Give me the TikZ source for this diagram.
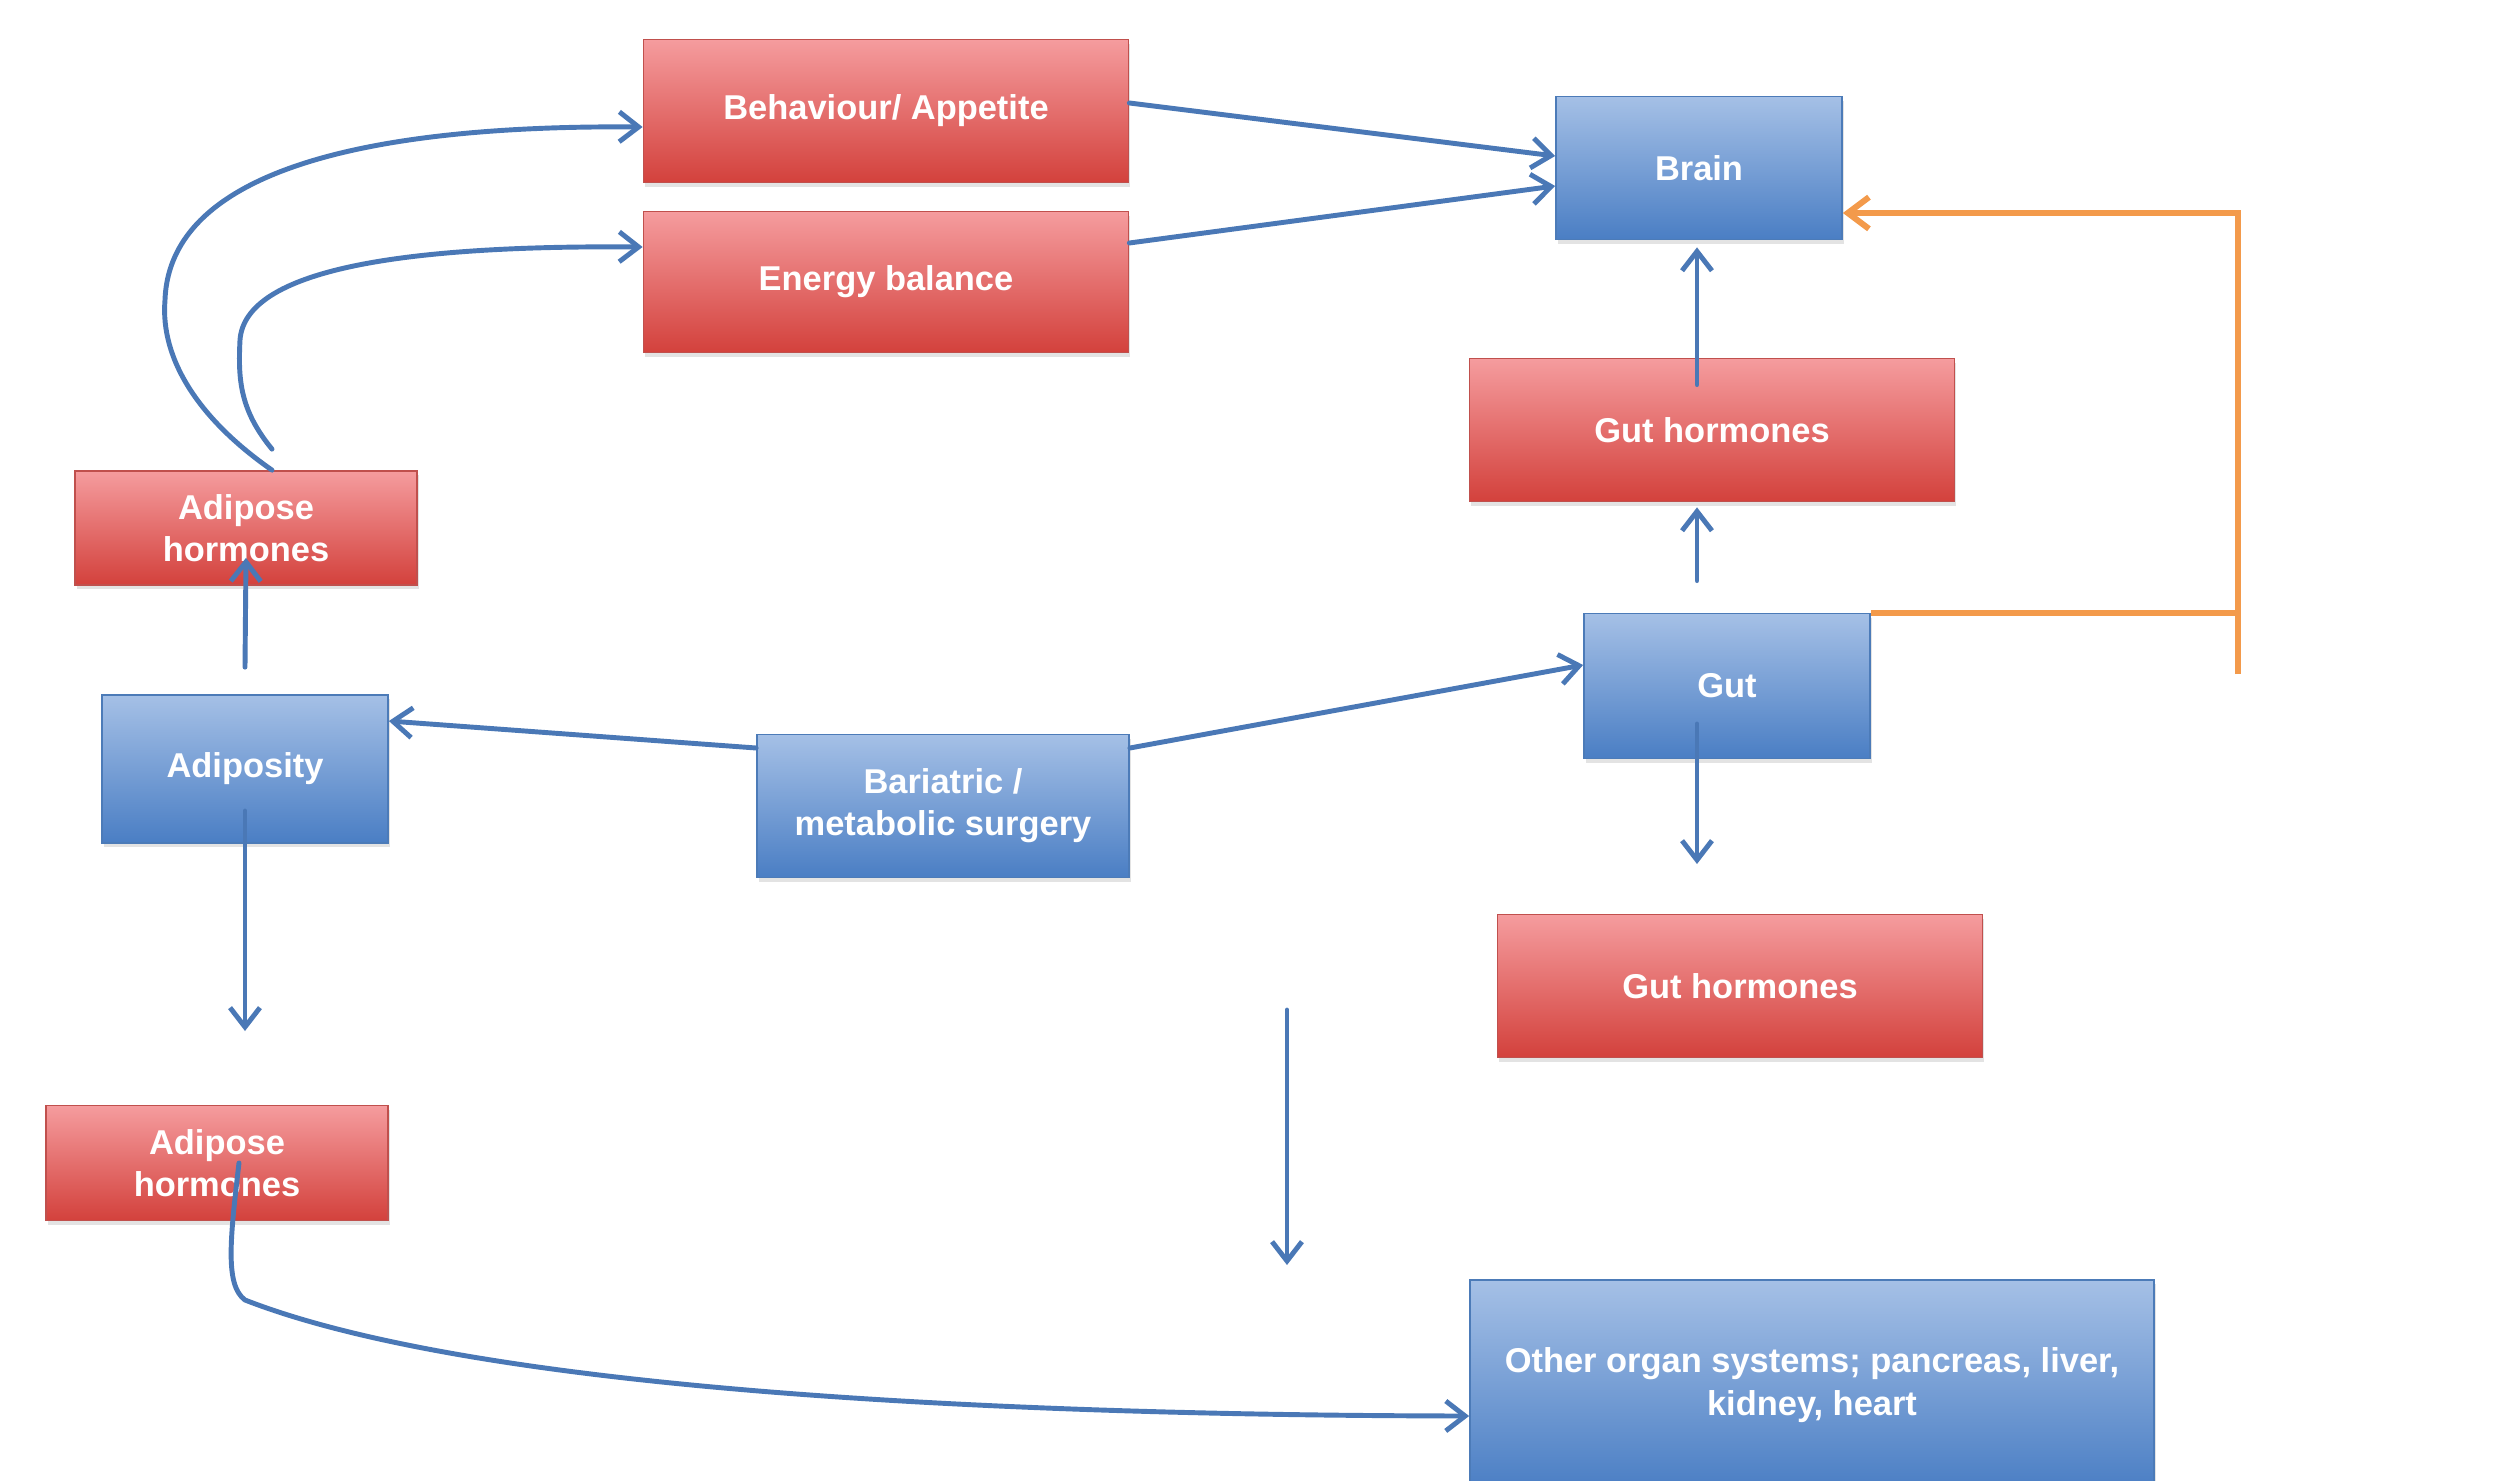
\documentclass[tikz,border=0pt]{standalone}
\usepackage{fontspec}
\setmainfont{Liberation Sans}
\usetikzlibrary{arrows.meta, positioning, calc, shadows}

\definecolor{rossoalto}{HTML}{F59C9E}
\definecolor{rossobasso}{HTML}{D3413C}
\definecolor{rossobordo}{HTML}{C0504D}
\definecolor{blualto}{HTML}{A5C0E6}
\definecolor{blubasso}{HTML}{4A7EC4}
\definecolor{blubordo}{HTML}{4C7BB8}
\definecolor{colfreccia}{HTML}{4A78B6}
\definecolor{colarancio}{HTML}{F39A4B}

\begin{document}
\begin{tikzpicture}[
    scatola/.style = {line width=0.5pt, text=white, align=center, inner sep=0pt,
        font=\bfseries\fontsize{9.8}{12}\selectfont,
        drop shadow={opacity=0.22, shadow xshift=0.5pt, shadow yshift=-1.2pt}},
    rosso/.style = {scatola, draw=rossobordo, top color=rossoalto, bottom color=rossobasso},
    blu/.style = {scatola, draw=blubordo, top color=blualto, bottom color=blubasso},
    frecciablu/.style = {draw=colfreccia, line width=1.4pt, line cap=round,
        -{Straight Barb[length=5.5pt, width=8.5pt]}},
    lineaarancio/.style = {draw=colarancio, line width=1.7pt},
    frecciaarancio/.style = {lineaarancio, -{Straight Barb[length=6pt, width=9pt]}}
]
    % Parametri
    \pgfmathsetmacro{\largo}{4.85}
    \pgfmathsetmacro{\alto}{1.43}
    \pgfmathsetmacro{\piccolo}{2.86}
    \pgfmathsetmacro{\adiposo}{3.42}
    % Sfondo
    \path[use as bounding box, fill=white] (0,0) rectangle (24.94,-14.81);
    % Riquadri rossi
    \node[rosso, minimum width=\largo cm, minimum height=\alto cm] (beh) at (8.86,-1.11) {Behaviour/ Appetite};
    \node[rosso, minimum width=\largo cm, minimum height=1.41cm] (ene) at (8.86,-2.82) {Energy balance};
    \node[rosso, minimum width=\largo cm, minimum height=\alto cm] (gormsup) at (17.12,-4.30) {Gut hormones};
    \node[rosso, minimum width=\largo cm, minimum height=\alto cm] (gorminf) at (17.40,-9.86) {Gut hormones};
    \node[rosso, minimum width=\adiposo cm, minimum height=1.14cm] (adiposup) at (2.46,-5.28) {Adipose\\hormones};
    \node[rosso, minimum width=\adiposo cm, minimum height=1.15cm] (adiposinf) at (2.17,-11.63) {Adipose\\hormones};
    % Riquadri blu
    \node[blu, minimum width=\piccolo cm, minimum height=\alto cm] (cervello) at (16.99,-1.68) {Brain};
    \node[blu, minimum width=\piccolo cm, minimum height=1.45cm] (intestino) at (17.27,-6.86) {Gut};
    \node[blu, minimum width=\piccolo cm, minimum height=1.48cm] (adiposita) at (2.45,-7.69) {Adiposity};
    \node[blu, minimum width=3.72cm, minimum height=\alto cm] (chirurgia) at (9.43,-8.06) {Bariatric /\\metabolic surgery};
    \node[blu, minimum width=6.84cm, minimum height=2.10cm] (organi) at (18.12,-13.85) {Other organ systems; pancreas, liver,\\kidney, heart};
    % Punti liberi
    \coordinate (asse) at (16.97,0);
    \coordinate (intgiu) at (16.97,-8.64);
    \coordinate (adipgiu) at (2.45,-10.31);
    \coordinate (vuotosu) at (12.87,-10.10);
    \coordinate (vuotogiu) at (12.87,-12.65);
    \coordinate (ramo) at (22.38,-6.74);
    % Frecce verso il cervello
    \draw[frecciablu] ([yshift=0.08cm]beh.east) -- ([yshift=0.12cm]cervello.west);
    \draw[frecciablu] ([yshift=0.39cm]ene.east) -- ([yshift=-0.18cm]cervello.west);
    \draw[frecciablu] ($(asse |- gormsup.north)+(0,-0.27)$) -- ($(asse |- cervello.south)+(0,-0.07)$);
    \draw[frecciablu] ($(asse |- intestino.north)+(0,0.32)$) -- ($(asse |- gormsup.south)+(0,-0.05)$);
    \draw[frecciablu] ($(asse |- intestino)+(0,-0.38)$) -- (intgiu);
    % Ramo arancione
    \draw[lineaarancio] (intestino.north east) -- (intestino.north east -| ramo);
    \draw[frecciaarancio] (ramo) |- ([yshift=-0.45cm]cervello.east);
    % Chirurgia
    \draw[frecciablu] ([yshift=0.58cm]chirurgia.west) -- ([yshift=0.48cm]adiposita.east);
    \draw[frecciablu] ([yshift=0.58cm]chirurgia.east) -- ([yshift=0.21cm]intestino.west);
    % Adiposita
    \draw[frecciablu] ($(adiposita.north)+(0,0.27)$) -- ($(adiposup.south)+(0,0.28)$);
    \draw[frecciablu] ($(adiposita)+(0,-0.42)$) -- (adipgiu);
    \draw[frecciablu] (vuotosu) -- (vuotogiu);
    % Curve degli ormoni adiposi
    \draw[frecciablu] ([xshift=0.26cm]adiposup.north) .. controls (2.0,-4.2) and (1.6,-3.6) .. (1.65,-3.0)
        .. controls (1.7,-1.6) and (4,-1.25) .. ([yshift=-0.16cm]beh.west);
    \draw[frecciablu] ($(adiposup.north)+(0.26,0.21)$) .. controls (2.4,-4.1) and (2.38,-3.8) .. (2.4,-3.4)
        .. controls (2.45,-2.7) and (4.0,-2.45) .. ([yshift=0.35cm]ene.west);
    \draw[frecciablu] ([xshift=0.22cm]adiposinf.center) .. controls (2.30,-12.4) and (2.25,-12.85) .. (2.45,-13.0)
        .. controls (4.5,-13.8) and (9,-14.15) .. ([yshift=-0.31cm]organi.west);
\end{tikzpicture}
\end{document}
